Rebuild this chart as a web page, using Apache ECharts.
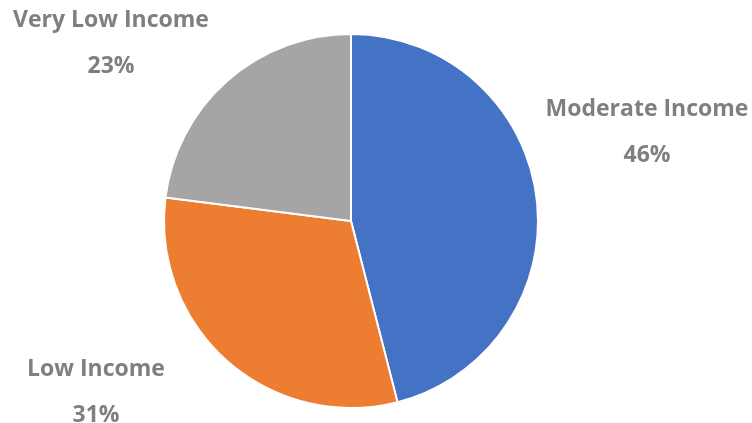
<!DOCTYPE html>
<html>
<head>
<meta charset="utf-8">
<script src="https://cdn.jsdelivr.net/npm/echarts@6/dist/echarts.min.js"></script>
<style>html,body{margin:0;padding:0;background:#fff;}#c{width:752px;height:423px;}</style>
</head>
<body>
<div id="c"></div>
<script>
var categories = ['Moderate Income', 'Low Income', 'Very Low Income'];
var values = [46, 31, 23];
var colors = ['#4472C4', '#ED7D31', '#A5A5A5'];

var labelSpots = [[647, 132], [96, 392], [111, 43]];

var chart = echarts.init(document.getElementById('c'));
chart.setOption({
  animation: false,
  backgroundColor: '#ffffff',
  series: [{
    type: 'pie',
    center: [351, 221],
    radius: [0, 187],
    startAngle: 90,
    clockwise: true,
    data: categories.map(function (c, i) {
      return { name: c, value: values[i], itemStyle: { color: colors[i] } };
    }),
    itemStyle: { borderColor: '#ffffff', borderWidth: 2 },
    label: {
      show: true,
      position: 'outside',
      overflow: 'none',
      width: 300,
      formatter: '{n|{b}}\n{p|{d}%}',
      rich: {
        n: { fontFamily: 'Open Sans', fontWeight: 'bold', fontSize: 23, color: '#7f7f7f', lineHeight: 46, align: 'center' },
        p: { fontFamily: 'Open Sans', fontWeight: 'bold', fontSize: 23, color: '#7f7f7f', lineHeight: 46, align: 'center' }
      }
    },
    labelLine: { show: false },
    labelLayout: function (params) {
      var s = labelSpots[params.dataIndex];
      return { x: s[0], y: s[1], align: 'center', verticalAlign: 'middle', hideOverlap: false };
    },
    emphasis: { disabled: true }
  }]
});
</script>
</body>
</html>
